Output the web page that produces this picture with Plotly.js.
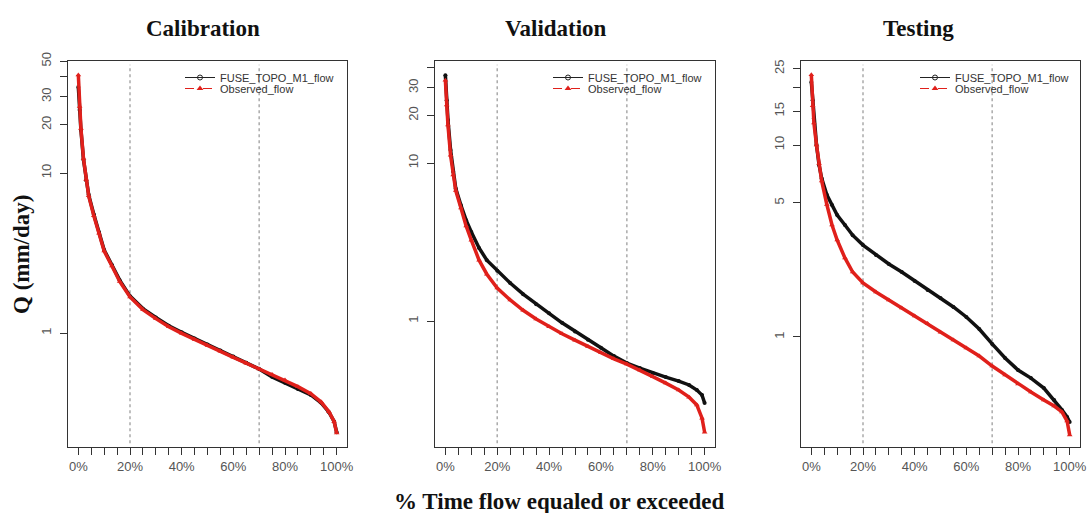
<!DOCTYPE html>
<html><head><meta charset="utf-8">
<script src="https://cdn.plot.ly/plotly-3.0.1.min.js"></script>
<style>html,body{margin:0;padding:0;background:#fff}#chart{width:1088px;height:513px}</style>
</head><body><div id="chart"></div>
<script>
const pct = [0,0.005,0.01,0.02,0.03,0.04,0.06,0.08,0.10,0.13,0.16,0.20,0.25,0.30,0.35,0.40,0.45,0.50,0.55,0.60,0.65,0.70,0.75,0.80,0.85,0.90,0.94,0.97,0.99,1.0];

const calibFuse = [34.5,24.8,18.6,12.1,9.0,7.3,5.5,4.27,3.3,2.66,2.14,1.7,1.42,1.25,1.11,1.01,0.925,0.848,0.778,0.712,0.652,0.596,0.532,0.488,0.447,0.41,0.366,0.32,0.28,0.24];
const calibObs  = [41,26,19,12.3,9.1,7.2,5.4,4.2,3.25,2.62,2.1,1.68,1.4,1.23,1.095,0.995,0.91,0.835,0.768,0.705,0.648,0.596,0.55,0.508,0.462,0.418,0.37,0.322,0.28,0.237];

const validFuse = [36,25,18.7,12.1,8.8,6.9,5.4,4.35,3.66,2.9,2.43,2.08,1.74,1.48,1.28,1.12,0.975,0.86,0.762,0.677,0.6,0.542,0.504,0.469,0.442,0.417,0.394,0.366,0.34,0.303];
const validObs  = [33.4,23.3,17.4,11.2,8.4,6.7,5.2,4.0,3.25,2.43,1.98,1.62,1.36,1.17,1.03,0.92,0.832,0.757,0.69,0.63,0.577,0.534,0.49,0.445,0.405,0.366,0.33,0.294,0.243,0.198];

const testFuse = [21.3,17.1,13.8,10,7.86,6.7,5.5,4.87,4.32,3.83,3.39,3.01,2.67,2.40,2.18,1.96,1.757,1.597,1.433,1.271,1.1,0.92,0.777,0.673,0.611,0.542,0.47,0.417,0.383,0.361];
const testObs  = [23.2,16,13,10,8.0,6.5,4.9,3.83,3.2,2.58,2.18,1.91,1.715,1.56,1.416,1.286,1.175,1.06,0.965,0.876,0.796,0.706,0.634,0.569,0.517,0.47,0.437,0.407,0.365,0.309];

const panelTitles = ['Calibration','Validation','Testing'];
const seriesNames = ['FUSE_TOPO_M1_flow','Observed_flow'];
const xTickVals = [0,0.05,0.1,0.15,0.2,0.25,0.3,0.35,0.4,0.45,0.5,0.55,0.6,0.65,0.7,0.75,0.8,0.85,0.9,0.95,1.0];
const xTickText = ['0%','','','','20%','','','','40%','','','','60%','','','','80%','','','','100%'];
const yTicks = [
  {vals:[1,10,20,30,40,50], text:['1','10','20','30','','50']},
  {vals:[1,10,20,30,40], text:['1','10','20','30','']},
  {vals:[1,5,10,15,20,25], text:['1','5','10','15','','25']}
];
const yRanges = [[-0.7125,1.7],[-0.797,1.646],[-0.573,1.4375]];
const refLines = [0.2,0.7];

const W = 1088, H = 513;
const xDom = [[68/W,347/W],[435/W,715/W],[801/W,1080/W]];
const yDom = [1-447/H, 1-61/H];
const legendX = [180/W, 548/W, 915/W];
const titleX = [203/W, 556/W, 918/W];

const fuseData = [calibFuse, validFuse, testFuse];
const obsData = [calibObs, validObs, testObs];

const traces = [];
const layout = {
  width: W, height: H,
  margin:{l:0,r:0,t:0,b:0},
  paper_bgcolor:'#fff', plot_bgcolor:'#fff',
  showlegend:true,
  font:{family:'Liberation Sans, Arial, sans-serif', color:'#444'},
  annotations:[], shapes:[]
};
const tickFont = {family:'Liberation Sans, Arial, sans-serif', size:13, color:'#555'};
const legFont = {family:'Liberation Sans, Arial, sans-serif', size:11, color:'#333'};
const titleFont = {family:'Liberation Serif, Times New Roman, serif', size:23, color:'#111'};

for (let i=0;i<3;i++){
  const sfx = i===0 ? '' : String(i+1);
  const xa = 'x'+sfx, ya = 'y'+sfx;
  const lgA = i===0 ? 'legend' : 'legend'+(2*i+1);
  const lgB = 'legend'+(2*i+2);
  traces.push({x:pct, y:fuseData[i], xaxis:xa, yaxis:ya, type:'scatter', mode:'lines+markers',
    line:{color:'#111', width:3.5}, marker:{symbol:'circle', size:4, color:'#111'},
    showlegend:false, hoverinfo:'skip'});
  traces.push({x:pct, y:obsData[i], xaxis:xa, yaxis:ya, type:'scatter', mode:'lines+markers',
    line:{color:'#e0201b', width:3.5}, marker:{symbol:'triangle-up', size:5, color:'#e0201b'},
    showlegend:false, hoverinfo:'skip'});
  traces.push({x:[null], y:[null], xaxis:xa, yaxis:ya, type:'scatter', mode:'lines+markers', name:seriesNames[0],
    line:{color:'#222', width:1}, marker:{symbol:'circle-open', size:5, color:'#222'}, legend:lgA});
  traces.push({x:[null], y:[null], xaxis:xa, yaxis:ya, type:'scatter', mode:'lines+markers', name:seriesNames[1],
    line:{color:'#e0201b', width:1, dash:'dash'}, marker:{symbol:'triangle-up', size:6, color:'#e0201b'}, legend:lgB});

  layout['xaxis'+sfx] = {domain:xDom[i], anchor:ya, range:[-0.04,1.04], tickmode:'array',
    tickvals:xTickVals, ticktext:xTickText, ticks:'outside', ticklen:7, tickcolor:'#333', tickwidth:1,
    showline:true, mirror:true, linecolor:'#333', linewidth:1.3, showgrid:false, zeroline:false,
    tickfont:tickFont, fixedrange:true};
  layout['yaxis'+sfx] = {domain:yDom, anchor:xa, type:'log', range:yRanges[i], tickmode:'array',
    tickvals:yTicks[i].vals, ticktext:yTicks[i].text, ticks:'outside', ticklen:7, tickcolor:'#333', tickwidth:1,
    showline:true, mirror:true, linecolor:'#333', linewidth:1.3, showgrid:false, zeroline:false,
    tickangle:-90, tickfont:tickFont, ticklabelstandoff:4, fixedrange:true};
  layout[lgA] = {x:legendX[i], y:1-63/H, xanchor:'left', yanchor:'top', bgcolor:'rgba(0,0,0,0)',
    font:legFont, tracegroupgap:0, itemwidth:30};
  layout[lgB] = {x:legendX[i], y:1-74/H, xanchor:'left', yanchor:'top', bgcolor:'rgba(0,0,0,0)',
    font:legFont, tracegroupgap:0, itemwidth:30};
  refLines.forEach(v=>{
    layout.shapes.push({type:'line', xref:xa, yref:ya+' domain', x0:v, x1:v, y0:0.01, y1:0.99,
      line:{color:'#aaa', width:1.5, dash:'dot'}, layer:'below'});
  });
  layout.annotations.push({text:'<b>'+panelTitles[i]+'</b>', xref:'paper', yref:'paper',
    x:titleX[i], y:1-28/H, xanchor:'center', yanchor:'middle', showarrow:false, font:titleFont});
}
layout.annotations.push({text:'<b>Q (mm/day)</b>', xref:'paper', yref:'paper', x:22/W, y:1-255/H,
  textangle:-90, xanchor:'center', yanchor:'middle', showarrow:false, font:titleFont});
layout.annotations.push({text:'<b>% Time flow equaled or exceeded</b>', xref:'paper', yref:'paper', x:559/W, y:1-501/H,
  xanchor:'center', yanchor:'middle', showarrow:false, font:titleFont});

Plotly.newPlot('chart', traces, layout, {displayModeBar:false, staticPlot:true});
</script>
</body></html>
